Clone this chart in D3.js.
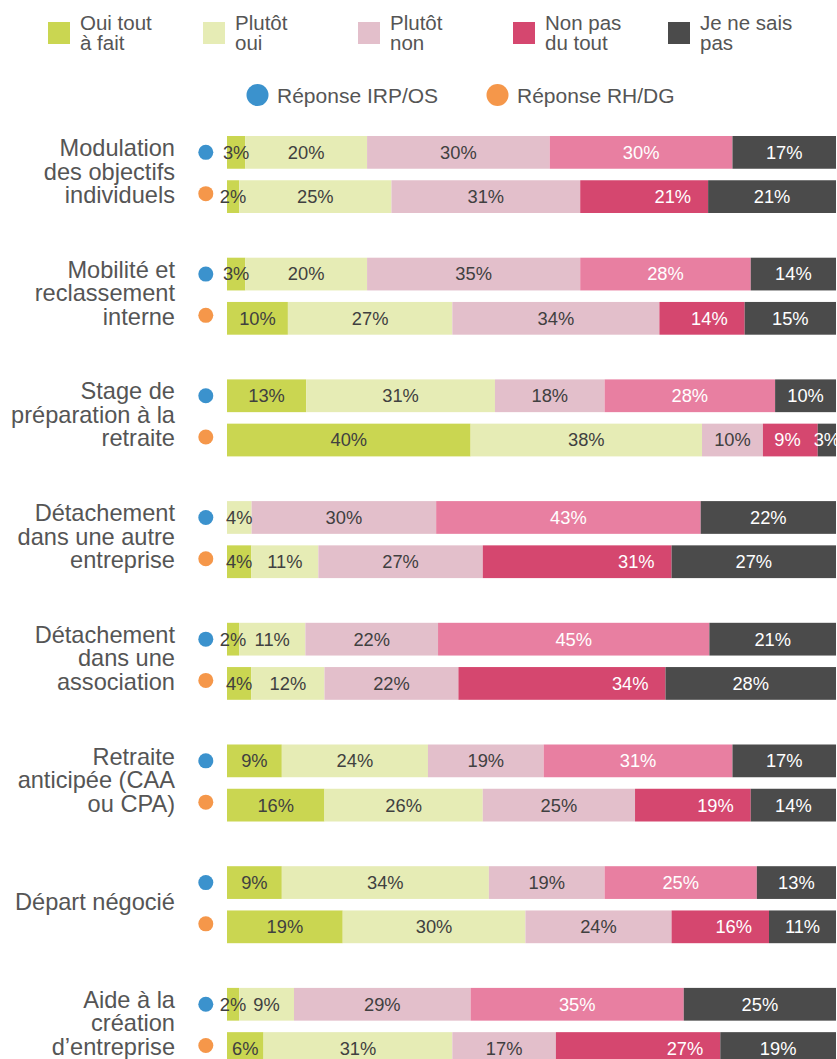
<!DOCTYPE html>
<html>
<head>
<meta charset="utf-8">
<script src="https://cdn.jsdelivr.net/npm/d3@7/dist/d3.min.js"></script>
<style>
  html, body { margin: 0; padding: 0; background: #fff; overflow: hidden; }
  svg { display: block; }
  svg text { font-family: "Liberation Sans", Arial, Helvetica, sans-serif; }
</style>
</head>
<body>
<svg id="chart" width="837" height="1059"></svg>
<script>
// ---------- DATA ----------
const categories = [
  ["Modulation", "des objectifs", "individuels"],
  ["Mobilité et", "reclassement", "interne"],
  ["Stage de", "préparation à la", "retraite"],
  ["Détachement", "dans une autre", "entreprise"],
  ["Détachement", "dans une", "association"],
  ["Retraite", "anticipée (CAA", "ou CPA)"],
  ["Départ négocié"],
  ["Aide à la", "création", "d’entreprise"]
];
const answerLabels = [["Oui tout", "à fait"], ["Plutôt", "oui"], ["Plutôt", "non"], ["Non pas", "du tout"], ["Je ne sais", "pas"]];
const respondentLabels = ["Réponse IRP/OS", "Réponse RH/DG"];

// IRP/OS answers (%)
const irpOuiToutAFait = [3, 3, 13, 0, 2, 9, 9, 2];
const irpPlutotOui    = [20, 20, 31, 4, 11, 24, 34, 9];
const irpPlutotNon    = [30, 35, 18, 30, 22, 19, 19, 29];
const irpNonPasDuTout = [30, 28, 28, 43, 45, 31, 25, 35];
const irpNeSaisPas    = [17, 14, 10, 22, 21, 17, 13, 25];
// RH/DG answers (%)
const rhOuiToutAFait = [2, 10, 40, 4, 4, 16, 19, 6];
const rhPlutotOui    = [25, 27, 38, 11, 12, 26, 30, 31];
const rhPlutotNon    = [31, 34, 10, 27, 22, 25, 24, 17];
const rhNonPasDuTout = [21, 14, 9, 31, 34, 19, 16, 27];
const rhNeSaisPas    = [21, 15, 3, 27, 28, 14, 11, 19];

// ---------- STYLE ----------
const colOui = "#cad651", colPOui = "#e6ecb5", colPNon = "#e3bfcb",
      colNonIRP = "#e87fa1", colNonRH = "#d5476f", colNsp = "#4b4b4b";
const legendColors = [colOui, colPOui, colPNon, colNonRH, colNsp];
const dotColors = ["#3b92cd", "#f5974a"];
const textGrey = "#555555", darkLabel = "#404040";
const FONT = "'Liberation Sans', Arial, Helvetica, sans-serif";

const series = [
  { name: "IRP", values: [irpOuiToutAFait, irpPlutotOui, irpPlutotNon, irpNonPasDuTout, irpNeSaisPas],
    colors: [colOui, colPOui, colPNon, colNonIRP, colNsp] },
  { name: "RH", values: [rhOuiToutAFait, rhPlutotOui, rhPlutotNon, rhNonPasDuTout, rhNeSaisPas],
    colors: [colOui, colPOui, colPNon, colNonRH, colNsp] }
];
const labelFill = ["dark", "dark", "dark", "light", "light"];

const svg = d3.select("#chart");

// ---------- SCALES ----------
const x = d3.scaleLinear().domain([0, 100]).range([227, 836]);
const groupStep = 121.7;
const y = d3.scaleBand().domain(d3.range(categories.length))
  .range([136, 136 + groupStep * categories.length]).paddingInner(0).paddingOuter(0);
const yInner = d3.scaleBand().domain([0, 1]).range([0, 77]).paddingInner(0.26).paddingOuter(0);
const barH = yInner.bandwidth();

// ---------- LEGEND ----------
const leg = svg.append("g");
answerLabels.forEach((lines, i) => {
  const lx = 48 + 155 * i;
  leg.append("rect").attr("x", lx).attr("y", 22).attr("width", 22).attr("height", 22).attr("fill", legendColors[i]);
  const t = leg.append("text").attr("x", lx + 32).attr("y", 29.5).attr("font-family", FONT)
    .attr("font-size", 20.5).attr("fill", textGrey);
  lines.forEach((ln, j) => t.append("tspan").attr("x", lx + 32).attr("dy", j === 0 ? 0 : 20.7).text(ln));
});
const dotLegX = [257.5, 497.5];
respondentLabels.forEach((lab, i) => {
  leg.append("circle").attr("cx", dotLegX[i]).attr("cy", 95).attr("r", 11).attr("fill", dotColors[i]);
  leg.append("text").attr("x", dotLegX[i] + 19.5).attr("y", 103).attr("font-size", 21).attr("font-family", FONT)
    .attr("fill", textGrey).text(lab);
});

// ---------- BARS ----------
categories.forEach((lines, ci) => {
  const g = svg.append("g").attr("transform", `translate(0,${y(ci)})`);
  // category label
  const midY = yInner.range()[1] / 2;
  const n = lines.length;
  const t = g.append("text").attr("text-anchor", "end").attr("font-size", 23.6)
    .attr("font-family", FONT).attr("fill", textGrey);
  lines.forEach((ln, j) => {
    t.append("tspan").attr("x", 175).attr("y", midY + 5 + (j - (n - 1) / 2) * 23.5).text(ln);
  });

  const labels = [];
  series.forEach((s, si) => {
    const by = yInner(si);
    const vals = s.values.map(arr => arr[ci]);
    const total = d3.sum(vals);
    let cum = 0;
    // dot marker
    g.append("circle").attr("cx", 205.8).attr("cy", by + barH / 2 - (si === 1 ? 3 : 0))
      .attr("r", 7.5).attr("fill", dotColors[si]);
    vals.forEach((v, k) => {
      const x0 = x(cum / total * 100), x1 = x((cum + v) / total * 100);
      cum += v;
      if (v <= 0) return;
      g.append("rect").attr("x", x0).attr("y", by).attr("width", x1 - x0).attr("height", barH)
        .attr("fill", s.colors[k]);
      const rightAligned = (si === 1 && k === 3);
      labels.push({
        x: rightAligned ? x1 - 17 : (x0 + x1) / 2,
        y: by + barH / 2,
        anchor: rightAligned ? "end" : "middle",
        fill: labelFill[k] === "dark" ? darkLabel : "#ffffff",
        text: v + "%"
      });
    });
  });
  // labels on top of all segments
  labels.forEach(l => {
    g.append("text")
      .attr("x", l.x).attr("y", l.y).attr("dy", "0.35em")
      .attr("text-anchor", l.anchor)
      .attr("font-size", 18.3).attr("font-family", FONT)
      .attr("fill", l.fill)
      .text(l.text);
  });
});
</script>
</body>
</html>
